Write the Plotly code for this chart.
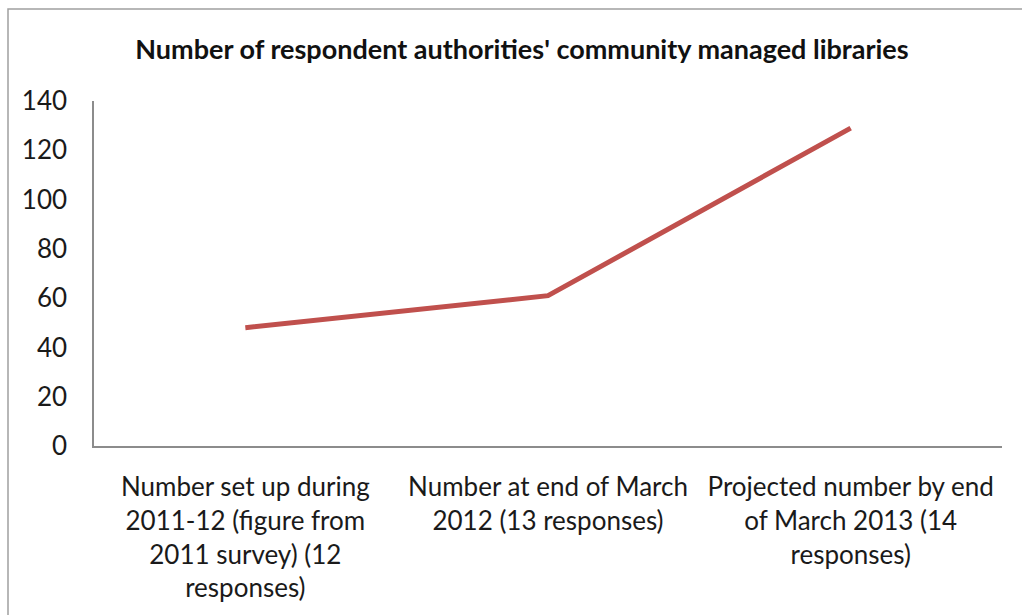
import plotly.graph_objects as go

categories = [
    "Number set up during<br>2011-12 (figure from<br>2011 survey) (12<br>responses)",
    "Number at end of March<br>2012 (13 responses)",
    "Projected number by end<br>of March 2013 (14<br>responses)",
]
values = [48, 61, 129]
y_ticks = [0, 20, 40, 60, 80, 100, 120, 140]
title_text = "Number of respondent authorities' community managed libraries"

FONT = "Lato, Carlito, Calibri, sans-serif"

fig = go.Figure()
fig.add_trace(go.Scatter(
    x=categories, y=values, mode="lines",
    line=dict(color="#C0504D", width=5),
    showlegend=False, hoverinfo="x+y",
))

fig.update_layout(
    width=1022, height=615,
    margin=dict(l=94, r=20, t=101, b=169),
    paper_bgcolor="white", plot_bgcolor="white",
    font=dict(family=FONT, color="#1a1a1a"),
    title=dict(text="<b>" + title_text + "</b>", x=522 / 1022, xanchor="center",
               y=1 - 50 / 615, yanchor="middle",
               font=dict(family=FONT, size=27, color="#111111")),
    xaxis=dict(type="category", showgrid=False, zeroline=False,
               showline=True, linecolor="#8c8c8c", linewidth=1.5,
               ticks="", tickfont=dict(size=26), range=[-0.5, 2.5],
               ticklabelstandoff=17),
    yaxis=dict(range=[0, 140], tickvals=y_ticks, showgrid=False, zeroline=False,
               showline=True, linecolor="#8c8c8c", linewidth=1.5,
               ticks="", tickfont=dict(size=26), ticklabelstandoff=20),
    shapes=[dict(type="rect", xref="paper", yref="paper",
                 x0=(8 - 94) / 908, x1=1.05, y0=-0.6, y1=(446 - 9) / 345,
                 line=dict(color="#a0a0a0", width=1.5), layer="below")],
)

fig.write_html("out.html")
